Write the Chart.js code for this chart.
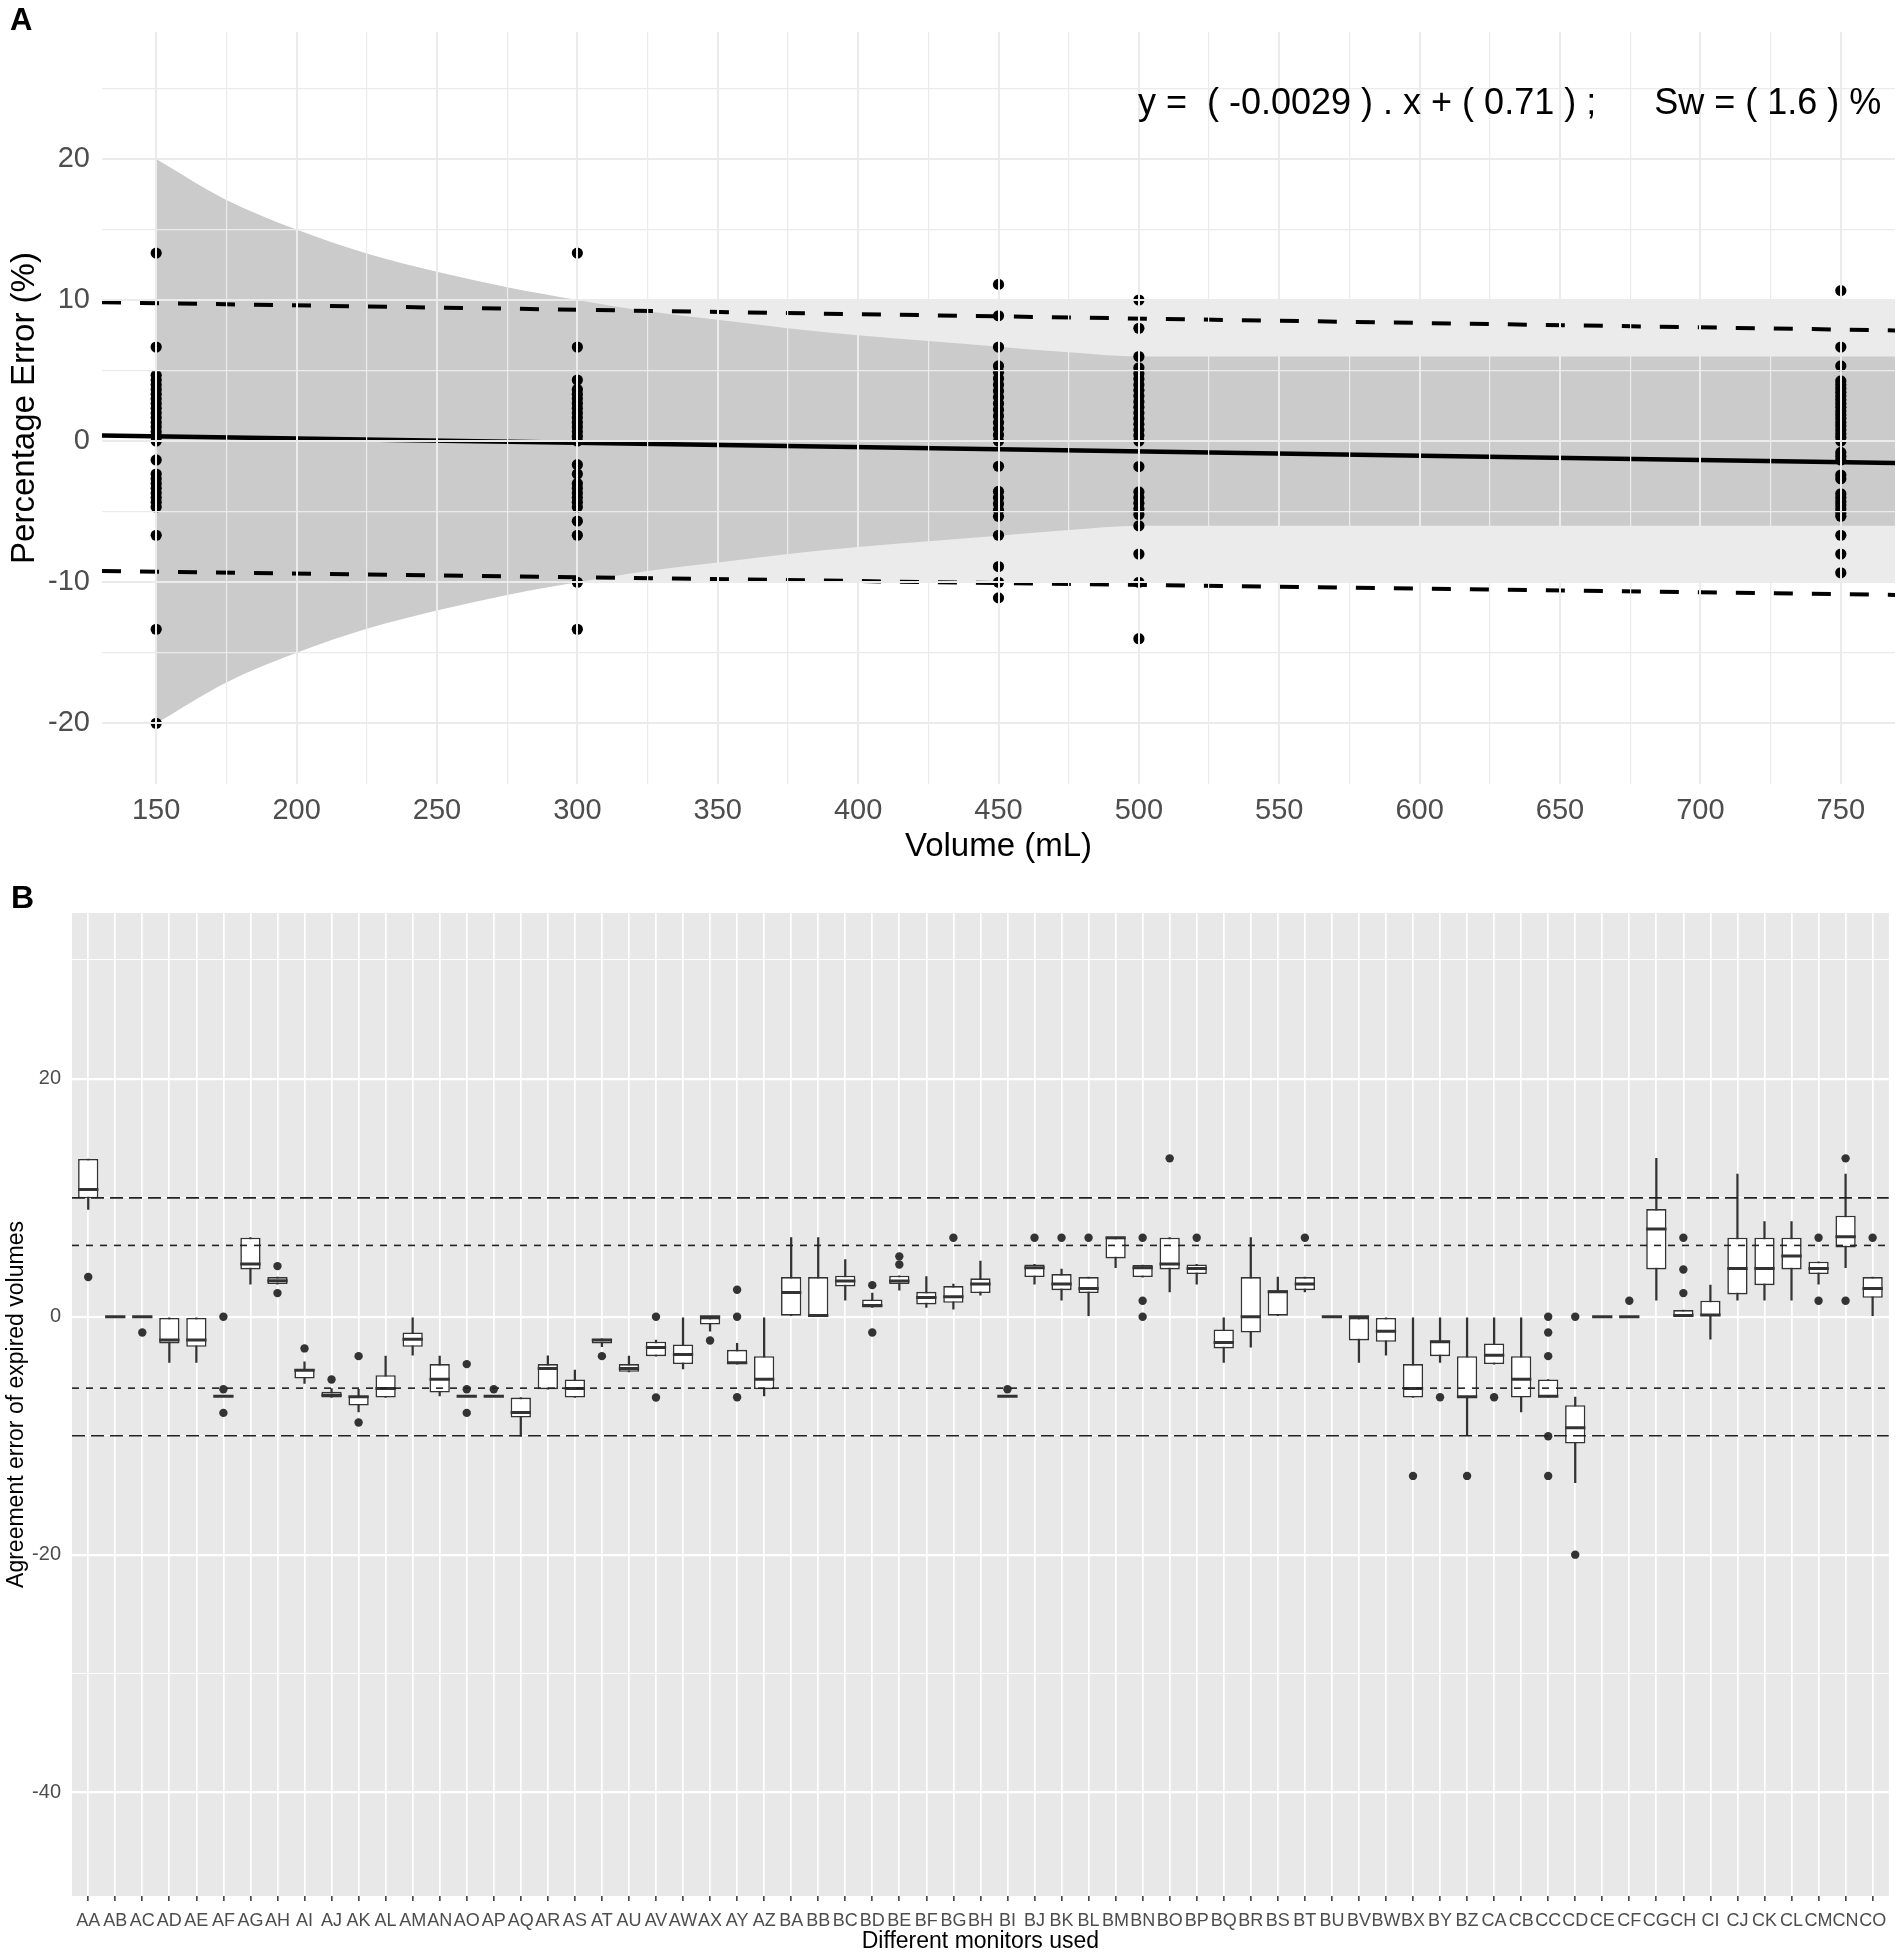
<!DOCTYPE html>
<html><head><meta charset="utf-8">
<script src="https://cdn.jsdelivr.net/npm/chart.js@4.4.1/dist/chart.umd.min.js"></script>
<style>
html,body{margin:0;padding:0;background:#fff;}
#wrap{position:relative;width:1902px;height:1955px;overflow:hidden;background:#fff;}
#cA{position:absolute;left:0;top:0;}
#cB{position:absolute;left:0;top:870px;}
.lbl{position:absolute;font-family:"Liberation Sans",Arial,Helvetica,sans-serif;font-weight:bold;line-height:1;color:#000;}
</style></head><body>
<div id="wrap">
<canvas id="cA" width="1902" height="870" style="width:1902px;height:870px"></canvas>
<canvas id="cB" width="1902" height="1085" style="width:1902px;height:1085px"></canvas>
<div class="lbl" style="left:10px;top:4px;font-size:31px">A</div>
<div class="lbl" style="left:11px;top:881px;font-size:32px">B</div>
</div>
<script>
const FONT = '"Liberation Sans", Arial, Helvetica, sans-serif';
Chart.defaults.font.family = FONT;
Chart.defaults.animation = false;

/* ---------- Panel A data ---------- */
const volumeLevels = [150, 300, 450, 500, 750];
const errors150 = [13.33, 6.67, 4.67, 4.33, 4.0, 3.67, 3.33, 3.0, 2.67, 2.33, 2.0, 1.67, 1.33, 1.0, 0.67, 0.33, 0, -1.33, -2.33, -2.67, -3.0, -3.33, -3.67, -4.0, -4.33, -4.67, -6.67, -13.33, -20.0];
const errors300 = [13.33, 6.67, 4.33, 3.67, 3.33, 3.0, 2.67, 2.33, 2.0, 1.67, 1.33, 1.0, 0.67, 0.33, 0, -1.67, -2.33, -3.0, -3.33, -3.67, -4.0, -4.33, -4.67, -5.67, -6.67, -10.0, -13.33];
const errors450 = [11.11, 8.89, 6.67, 5.33, 4.89, 4.44, 4.0, 3.56, 3.11, 2.67, 2.22, 1.78, 1.33, 0.89, 0.44, 0, -1.78, -3.56, -4.0, -4.44, -4.89, -5.33, -6.67, -8.89, -10.0, -11.11];
const errors500 = [10.0, 8.0, 6.0, 5.2, 4.8, 4.4, 4.0, 3.6, 3.2, 2.8, 2.4, 2.0, 1.6, 1.2, 0.8, 0.4, 0, -1.8, -3.6, -4.0, -4.4, -4.8, -5.2, -6.0, -8.0, -10.0, -14.0];
const errors750 = [10.67, 6.67, 5.33, 4.27, 4.0, 3.73, 3.47, 3.2, 2.93, 2.67, 2.4, 2.13, 1.87, 1.6, 1.33, 1.07, 0.8, 0.53, 0.27, 0, -0.8, -1.07, -1.33, -2.4, -2.67, -3.73, -4.0, -4.27, -4.53, -4.8, -5.07, -5.33, -6.67, -8.0, -9.33];

const lineX = [130.7, 769.3];
const fitY = [0.4, -1.55];
const upperLimitY = [9.84, 7.85];
const lowerLimitY = [-9.2, -10.9];

const funnelX = [150, 175, 200, 225, 250, 275, 300, 325, 350, 375, 400, 425, 450, 475, 500, 770];
const funnelUpper = [20, 17.1, 15, 13.3, 12, 10.9, 10, 9.2, 8.6, 8.0, 7.5, 7.1, 6.7, 6.3, 6.0, 6.0];
const funnelLower = [-20, -17.1, -15, -13.3, -12, -10.9, -10, -9.2, -8.6, -8.0, -7.5, -7.1, -6.7, -6.3, -6.0, -6.0];

const bandX = [150, 770];
const bandUpper = [10, 10];
const bandLower = [-10, -10];

const equationText = 'y =  ( -0.0029 ) . x + ( 0.71 ) ;';
const swText = 'Sw = ( 1.6 ) %';

/* ---------- Panel B data ---------- */
const categories = ['AA','AB','AC','AD','AE','AF','AG','AH','AI','AJ','AK','AL','AM','AN','AO','AP','AQ','AR','AS','AT','AU','AV','AW','AX','AY','AZ',
  'BA','BB','BC','BD','BE','BF','BG','BH','BI','BJ','BK','BL','BM','BN','BO','BP','BQ','BR','BS','BT','BU','BV','BW','BX','BY','BZ',
  'CA','CB','CC','CD','CE','CF','CG','CH','CI','CJ','CK','CL','CM','CN','CO'];
const whiskerLow = [9.03,0,0,-3.84,-3.84,-6.68,2.75,2.75,-5.61,-6.79,-8.0,-6.79,-3.23,-6.65,-6.68,-6.68,-10.04,-6.09,-6.79,-2.52,-4.63,-3.31,-4.38,-1.21,-3.98,-6.65,
  0,0,1.40,0.79,2.24,0.79,0.65,1.82,-6.68,2.75,1.40,0,4.12,3.34,2.10,2.75,-3.84,-2.55,0,2.10,0,-3.84,-3.23,-6.79,-3.84,-9.96,
  -3.98,-8.0,-6.76,-13.94,0,0,1.40,0,-1.88,1.40,1.40,1.40,2.75,4.12,0];
const quartile1 = [9.96,0,0,-2.24,-2.52,-6.68,3.98,2.75,-5.19,-6.79,-7.46,-6.79,-2.52,-6.37,-6.68,-6.68,-8.47,-6.09,-6.79,-2.24,-4.63,-3.31,-3.98,-0.65,-3.98,-6.09,
  0,0,2.55,0.79,2.75,1.04,1.18,1.99,-6.68,3.34,2.24,1.99,4.91,3.34,3.98,3.59,-2.66,-1.32,0,2.24,0,-1.99,-2.10,-6.79,-3.31,-6.79,
  -3.98,-6.79,-6.76,-10.66,0,0,3.98,0,0,1.88,2.66,3.98,3.59,5.83,1.60];
const medians = [10.7,0,0,-1.96,-1.96,-6.68,4.43,3.03,-4.49,-6.6,-6.73,-6.03,-1.88,-5.25,-6.68,-6.68,-8.05,-4.35,-6.03,-1.96,-4.35,-2.58,-3.17,0,-3.87,-5.25,
  2.05,0.1,3.0,0.95,3.0,1.63,1.68,2.75,-6.68,4.12,2.75,2.38,6.65,4.12,4.43,4.07,-2.16,0,2.10,2.75,0,0,-1.21,-6.03,-2.10,-6.73,
  -3.23,-5.25,-6.68,-9.34,0,0,7.38,0.1,0.14,4.07,4.07,5.11,4.07,6.73,2.38];
const quartile3 = [13.27,0,0,0,0,-6.68,6.65,3.34,-4.40,-6.31,-6.68,-4.91,-1.32,-3.98,-6.68,-6.68,-6.79,-3.98,-5.27,-1.85,-3.98,-2.10,-2.33,0,-2.78,-3.31,
  3.34,3.34,3.45,1.46,3.45,2.10,2.58,3.23,-6.68,4.40,3.59,3.34,6.65,4.35,6.65,4.40,-1.07,3.34,2.24,3.34,0,0,0,-3.98,-1.99,-3.31,
  -2.24,-3.31,-5.27,-7.43,0,0,9.06,0.56,1.35,6.65,6.65,6.65,4.63,8.50,3.34];
const whiskerHigh = [13.27,0,0,0,0,-6.68,6.65,3.34,-3.79,-6.03,-6.09,-3.31,0,-3.31,-6.68,-6.68,-6.79,-3.28,-4.49,-1.85,-3.31,-1.96,0,0,-2.24,0,
  6.65,6.65,4.82,2.0,3.45,3.37,2.75,4.68,-6.68,4.40,4.01,3.34,6.65,4.35,6.65,4.40,0,6.65,3.34,3.34,0,0,0,0,0,0,
  0,0,-5.27,-6.76,0,0,13.32,0.56,2.66,12.0,8.0,8.0,4.63,12.0,3.34];
const outlierCats = ['AA','AC','AF','AF','AF','AH','AH','AI','AJ','AK','AK','AO','AO','AO','AP','AT','AV','AV','AX','AY','AY','AY',
  'BD','BD','BE','BE','BG','BI','BJ','BK','BL','BN','BN','BN','BO','BP','BT','BX','BY','BZ',
  'CA','CC','CC','CC','CC','CC','CD','CD','CF','CH','CH','CH','CM','CM','CN','CN','CO'];
const outlierVals = [3.34,-1.32,0,-6.09,-8.08,4.26,1.99,-2.66,-5.27,-3.31,-8.89,-3.98,-6.09,-8.08,-6.09,-3.31,0,-6.79,-1.99,2.27,0,-6.76,
  2.66,-1.32,5.08,4.40,6.65,-6.09,6.65,6.65,6.65,6.65,1.35,0,13.32,6.65,6.65,-13.38,-6.76,-13.38,
  -6.76,0,-1.32,-3.31,-10.04,-13.38,0,-20.0,1.35,6.65,3.98,1.99,6.65,1.35,13.32,1.35,6.65];
const refLineX = [-0.6, 66.6];
const outerLimit = 10;
const innerLimit = 6;

/* ---------- helpers ---------- */
const pair = (xs, ys) => xs.map((x, i) => ({x: x, y: ys[i]}));
const errorsByVolume = [errors150, errors300, errors450, errors500, errors750];
const pointData = [];
volumeLevels.forEach((v, i) => errorsByVolume[i].forEach(e => pointData.push({x: v, y: e})));

/* ---------- Chart A ---------- */
const annotPlugin = {
  id: 'annotA',
  afterDraw(chart) {
    const ctx = chart.ctx;
    const xs = chart.scales.x, ys = chart.scales.y;
    const yPix = ys.getPixelForValue(23.9);
    const xRight = xs.getPixelForValue(764.4);
    ctx.save();
    ctx.fillStyle = '#000';
    ctx.font = '36px ' + FONT;
    ctx.textBaseline = 'middle';
    ctx.textAlign = 'right';
    ctx.fillText(swText, xRight, yPix);
    const w = ctx.measureText(swText).width;
    ctx.fillText(equationText, xRight - w - 58, yPix);
    ctx.restore();
  }
};

new Chart(document.getElementById('cA'), {
  type: 'scatter',
  data: {
    datasets: [
      {type: 'scatter', data: pointData, pointRadius: 5.6, pointBorderWidth: 0, backgroundColor: '#000', borderColor: '#000'},
      {type: 'line', data: pair(lineX, fitY), borderColor: '#000', borderWidth: 4.5, pointRadius: 0, fill: false},
      {type: 'line', data: pair(lineX, upperLimitY), borderColor: '#000', borderWidth: 4, borderDash: [19, 19], pointRadius: 0, fill: false},
      {type: 'line', data: pair(lineX, lowerLimitY), borderColor: '#000', borderWidth: 4, borderDash: [19, 19], pointRadius: 0, fill: false},
      {type: 'line', data: pair(funnelX, funnelUpper), borderWidth: 0, borderColor: 'rgba(0,0,0,0)', pointRadius: 0, fill: '+1', backgroundColor: '#cbcbcb', cubicInterpolationMode: 'monotone'},
      {type: 'line', data: pair(funnelX, funnelLower), borderWidth: 0, borderColor: 'rgba(0,0,0,0)', pointRadius: 0, fill: false, cubicInterpolationMode: 'monotone'},
      {type: 'line', data: pair(bandX, bandUpper), borderWidth: 0, borderColor: 'rgba(0,0,0,0)', pointRadius: 0, fill: '+1', backgroundColor: '#ebebeb'},
      {type: 'line', data: pair(bandX, bandLower), borderWidth: 0, borderColor: 'rgba(0,0,0,0)', pointRadius: 0, fill: false}
    ]
  },
  options: {
    responsive: false,
    animation: false,
    events: [],
    layout: {padding: {top: 32, right: 7, left: 0, bottom: 0}},
    plugins: {legend: {display: false}, tooltip: {enabled: false}},
    scales: {
      x: {
        type: 'linear', min: 130.7, max: 769.3,
        afterFit(s) { s.height = 86; s.paddingLeft = 0; s.paddingRight = 0; },
        border: {display: false},
        grid: {z: 1, color: '#ebebeb', lineWidth: c => (c.tick && c.tick.value % 50 === 0) ? 2 : 1.2, drawTicks: false, tickLength: 0},
        ticks: {stepSize: 25, includeBounds: false, autoSkip: false, maxRotation: 0, minRotation: 0, padding: 10, color: '#4d4d4d', font: {size: 29},
          callback: v => (v % 50 === 0 ? String(v) : '')},
        title: {display: true, text: 'Volume (mL)', color: '#000', font: {size: 33}, padding: {top: 0, bottom: 3}}
      },
      y: {
        type: 'linear', min: -24.3, max: 29,
        afterFit(s) { s.width = 102; s.paddingTop = 0; s.paddingBottom = 0; },
        border: {display: false},
        grid: {z: 1, color: '#ebebeb', lineWidth: c => (c.tick && c.tick.value % 10 === 0) ? 2 : 1.2, drawTicks: false, tickLength: 0},
        ticks: {stepSize: 5, includeBounds: false, autoSkip: false, padding: 12, color: '#4d4d4d', font: {size: 29},
          callback: v => (v % 10 === 0 ? String(v) : '')},
        title: {display: true, text: 'Percentage Error (%)', color: '#000', font: {size: 33}, padding: {top: 5, bottom: 0}}
      }
    }
  },
  plugins: [annotPlugin]
});

/* ---------- Chart B ---------- */
const bgPlugin = {
  id: 'panelBg',
  beforeDraw(chart) {
    const a = chart.chartArea, ctx = chart.ctx;
    ctx.save();
    ctx.fillStyle = '#e8e8e8';
    ctx.fillRect(a.left, a.top, a.right - a.left, a.bottom - a.top);
    ctx.restore();
  }
};

const idx = categories.map((_, i) => i);
const outlierData = outlierCats.map((c, i) => ({x: categories.indexOf(c), y: outlierVals[i]}));

new Chart(document.getElementById('cB'), {
  type: 'bar',
  data: {
    datasets: [
      {type: 'line', order: 0, data: pair(refLineX, [outerLimit, outerLimit]), borderColor: '#222', borderWidth: 1.6, borderDash: [13, 6], pointRadius: 0, fill: false},
      {type: 'line', order: 0, data: pair(refLineX, [-outerLimit, -outerLimit]), borderColor: '#222', borderWidth: 1.6, borderDash: [13, 6], pointRadius: 0, fill: false},
      {type: 'line', order: 0, data: pair(refLineX, [innerLimit, innerLimit]), borderColor: '#222', borderWidth: 1.6, borderDash: [7, 7], pointRadius: 0, fill: false},
      {type: 'line', order: 0, data: pair(refLineX, [-innerLimit, -innerLimit]), borderColor: '#222', borderWidth: 1.6, borderDash: [7, 7], pointRadius: 0, fill: false},
      {type: 'scatter', order: 1, data: outlierData, pointRadius: 4.2, pointBorderWidth: 0, backgroundColor: '#333', borderColor: '#333'},
      {type: 'scatter', order: 2, data: pair(idx, medians), pointStyle: 'line', pointRadius: 10.15, borderWidth: 3, borderColor: '#333', backgroundColor: '#333'},
      {type: 'bar', order: 3, data: idx.map(i => ({x: i, y: [quartile1[i], quartile3[i]]})), backgroundColor: '#fff', borderColor: '#333', borderWidth: 1.6, borderSkipped: false, barPercentage: 0.75, categoryPercentage: 1, grouped: false},
      {type: 'bar', order: 4, data: idx.map(i => ({x: i, y: [whiskerLow[i], whiskerHigh[i]]})), backgroundColor: '#333', borderWidth: 0, barThickness: 1.6, grouped: false}
    ]
  },
  options: {
    responsive: false,
    animation: false,
    events: [],
    layout: {padding: {top: 43, right: 6, left: 0, bottom: 0}},
    plugins: {legend: {display: false}, tooltip: {enabled: false}},
    scales: {
      x: {
        type: 'linear', min: -0.6, max: 66.6, offset: false,
        afterFit(s) { s.height = 59; s.paddingLeft = 0; s.paddingRight = 0; },
        border: {display: false},
        grid: {offset: false, color: '#ffffff', lineWidth: 1.7, drawTicks: true, tickLength: 5, tickColor: '#333', tickWidth: 1.5},
        ticks: {stepSize: 1, includeBounds: false, autoSkip: false, maxRotation: 0, minRotation: 0, padding: 9, color: '#4d4d4d', font: {size: 18},
          callback: v => (categories[Math.round(v)] || '')},
        title: {display: true, text: 'Different monitors used', color: '#000', font: {size: 23}, padding: {top: 0, bottom: 0}}
      },
      y: {
        type: 'linear', min: -48.7, max: 33.95,
        afterFit(s) { s.width = 72; s.paddingTop = 0; s.paddingBottom = 0; },
        border: {display: false},
        grid: {color: '#ffffff', lineWidth: c => (c.tick && c.tick.value % 20 === 0) ? 2.2 : 1.1, drawTicks: false, tickLength: 0},
        ticks: {stepSize: 10, includeBounds: false, autoSkip: false, padding: 11, color: '#4d4d4d', font: {size: 20},
          callback: v => (v % 20 === 0 ? String(v) : '')},
        title: {display: true, text: 'Agreement error of expired volumes', color: '#000', font: {size: 23}, padding: {top: 3, bottom: 0}}
      }
    }
  },
  plugins: [bgPlugin]
});
</script>
</body></html>
